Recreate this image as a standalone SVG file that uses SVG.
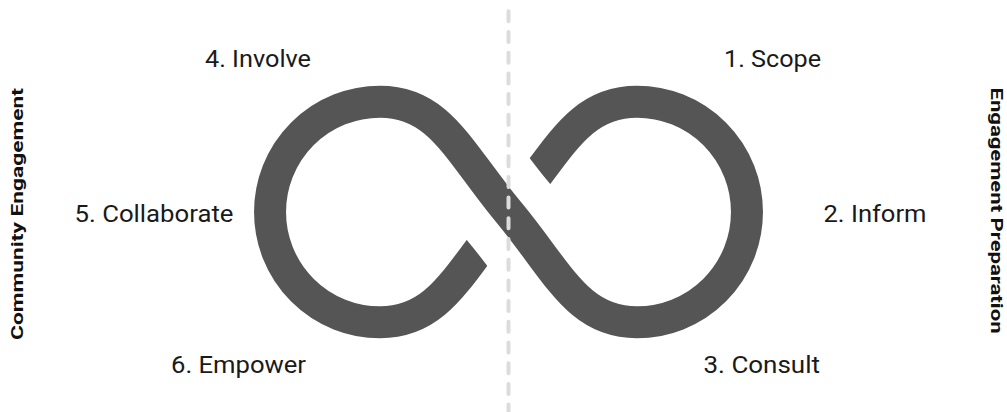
<svg xmlns="http://www.w3.org/2000/svg" width="1007" height="412" viewBox="0 0 1007 412">
<style>
.band{fill:none;stroke:#555555;stroke-width:32;stroke-linecap:butt}
.lbl{font-family:Roboto,"Liberation Sans",sans-serif;font-size:23.5px;fill:#1a1a1a}
.side{font-family:Roboto,"Liberation Sans",sans-serif;font-size:17px;font-weight:bold;fill:#111111}
.divider{fill:none;stroke:#dcdcdc;stroke-width:4;stroke-dasharray:10 10.7;stroke-linecap:round}
</style>
<defs>
<mask id="gap" maskUnits="userSpaceOnUse" x="0" y="0" width="1007" height="412">
<rect x="0" y="0" width="1007" height="412" fill="#ffffff"/>
<path d="M380,101.7 C440,101.7 458.5,152 508.5,212 C558.5,272 577,322.3 637,322.3" fill="none" stroke="#000000" stroke-width="100"/>
</mask>
</defs>
<g id="connectors">
<path id="under-strand" class="band" mask="url(#gap)" d="M380,322.3 C440,322.3 458.5,272 508.5,212 C558.5,152 577,101.7 637,101.7"/>
<path id="main-strand" class="band" d="M380,322.3 A110,110.3 0 0 1 380,101.7 C440,101.7 458.5,152 508.5,212 C558.5,272 577,322.3 637,322.3 A110,110.3 0 0 0 637,101.7"/>
<path id="divider" class="divider" d="M508.5,11.3 L508.5,412"/>
</g>
<g id="node-scope"><text class="lbl" x="724" y="67" textLength="97" lengthAdjust="spacingAndGlyphs">1. Scope</text></g>
<g id="node-inform"><text class="lbl" x="823.5" y="221.5" textLength="103" lengthAdjust="spacingAndGlyphs">2. Inform</text></g>
<g id="node-consult"><text class="lbl" x="703.5" y="372.5" textLength="116.5" lengthAdjust="spacingAndGlyphs">3. Consult</text></g>
<g id="node-involve"><text class="lbl" x="205" y="67" textLength="106" lengthAdjust="spacingAndGlyphs">4. Involve</text></g>
<g id="node-collaborate"><text class="lbl" x="74.5" y="221.5" textLength="159" lengthAdjust="spacingAndGlyphs">5. Collaborate</text></g>
<g id="node-empower"><text class="lbl" x="171" y="372.5" textLength="135" lengthAdjust="spacingAndGlyphs">6. Empower</text></g>
<g id="side-community"><text class="side" transform="translate(23,340) rotate(-90)" x="0" y="0" textLength="252" lengthAdjust="spacingAndGlyphs">Community Engagement</text></g>
<g id="side-preparation"><text class="side" transform="translate(990.5,87.5) rotate(90)" x="0" y="0" textLength="246" lengthAdjust="spacingAndGlyphs">Engagement Preparation</text></g>
</svg>
